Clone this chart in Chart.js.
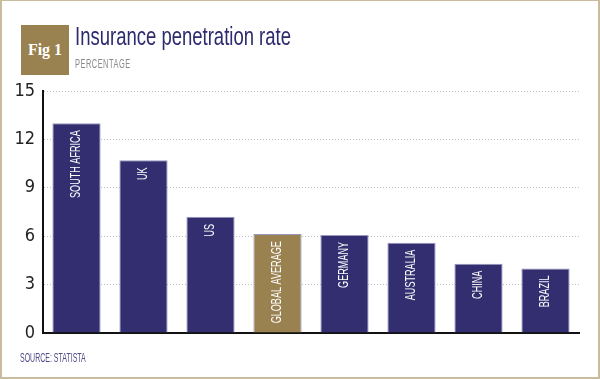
<!DOCTYPE html>
<html>
<head>
<meta charset="utf-8">
<script src="https://cdn.jsdelivr.net/npm/chart.js@4.4.1/dist/chart.umd.min.js"></script>
<style>
  html, body { margin: 0; padding: 0; background: #fff; }
  #wrap { position: relative; width: 600px; height: 379px; overflow: hidden; }
  #frame { position: absolute; left: 0; top: 0; width: 600px; height: 379px; box-sizing: border-box;
           border: 2px solid #c8bc9c; border-top-width: 1px; }
  #fig { position: absolute; left: 21px; top: 25px; width: 48px; height: 50px; background: #9a8150;
         color: #fff; font: bold 16px "Liberation Serif", serif; text-align: center; line-height: 50px; }
  #title { position: absolute; left: 75px; top: 22px; color: #2e2a6e; font: 25px "Liberation Sans", sans-serif;
           white-space: nowrap; transform-origin: 0 0; transform: scaleX(0.74); }
  #sub { position: absolute; left: 75px; top: 57px; color: #8a8a8a; font: 12px "Liberation Sans", sans-serif;
         letter-spacing: 0.8px; white-space: nowrap; transform-origin: 0 0; transform: scaleX(0.62); }
  #source { position: absolute; left: 20px; top: 351px; color: #4f4b8a; font: 12.5px "Liberation Sans", sans-serif;
            white-space: nowrap; transform-origin: 0 0; transform: scaleX(0.56); }
  canvas { position: absolute; left: 0; top: 0; }
</style>
</head>
<body>
<div id="wrap">
  <canvas id="mycanvas" width="600" height="379"></canvas>
  <div id="frame"></div>
  <div id="fig">Fig 1</div>
  <div id="title">Insurance penetration rate</div>
  <div id="sub">PERCENTAGE</div>
  <div id="source">SOURCE: STATISTA</div>
</div>
<script>
var countries = ['SOUTH AFRICA', 'UK', 'US', 'GLOBAL AVERAGE', 'GERMANY', 'AUSTRALIA', 'CHINA', 'BRAZIL'];
var rates = [13.0, 10.7, 7.2, 6.13, 6.08, 5.6, 4.3, 4.0];
var yTicks = [0, 3, 6, 9, 12, 15];

var navy = '#322e70';
var gold = '#9a8150';
var barColors = countries.map(function(c) { return c === 'GLOBAL AVERAGE' ? gold : navy; });

// white rotated names inside the bars
var barLabels = {
	id: 'barLabels',
	afterDatasetsDraw: function(chart) {
		var ctx = chart.ctx;
		var meta = chart.getDatasetMeta(0);
		ctx.save();
		ctx.fillStyle = '#ffffff';
		ctx.font = '14px "Liberation Sans", sans-serif';
		ctx.textAlign = 'right';
		ctx.textBaseline = 'middle';
		meta.data.forEach(function(bar, i) {
			ctx.save();
			ctx.translate(bar.x, bar.y + 7);
			ctx.rotate(-Math.PI / 2);
			ctx.scale(0.65, 1);
			ctx.fillText(countries[i], 0, 0);
			ctx.restore();
		});
		ctx.restore();
	}
};

var chartdata = {
	labels: countries,
	datasets: [{
		data: rates,
		backgroundColor: barColors,
		borderColor: '#9a97c0',
		borderWidth: 1,
		barPercentage: 0.72,
		categoryPercentage: 1
	}]
};

var ctx = document.getElementById('mycanvas');
var BarGraph = new Chart(ctx, {
	type: 'bar',
	data: chartdata,
	plugins: [barLabels],
	options: {
		responsive: false,
		animation: false,
		layout: { padding: { left: 0, top: 91, right: 21, bottom: 0 } },
		plugins: { legend: { display: false }, tooltip: { enabled: false } },
		scales: {
			x: {
				ticks: { display: false },
				grid: { display: false },
				border: { color: '#111', width: 2 },
				afterFit: function(scale) { scale.height = 46; }
			},
			y: {
				min: 0,
				max: 15,
				afterBuildTicks: function(scale) {
					scale.ticks = yTicks.map(function(v) { return { value: v }; });
				},
				ticks: {
					color: '#222',
					padding: 8,
					font: { family: '"DejaVu Sans Condensed", "Liberation Sans", sans-serif', size: 18 }
				},
				grid: {
					drawTicks: false,
					color: function(c) { return c.tick.value === 0 ? 'rgba(0,0,0,0)' : '#bcbcbc'; },
					lineWidth: 1
				},
				border: { color: '#111', width: 2, dash: [1, 2] },
				afterFit: function(scale) { scale.width = 43; }
			}
		}
	}
});
</script>
</body>
</html>
